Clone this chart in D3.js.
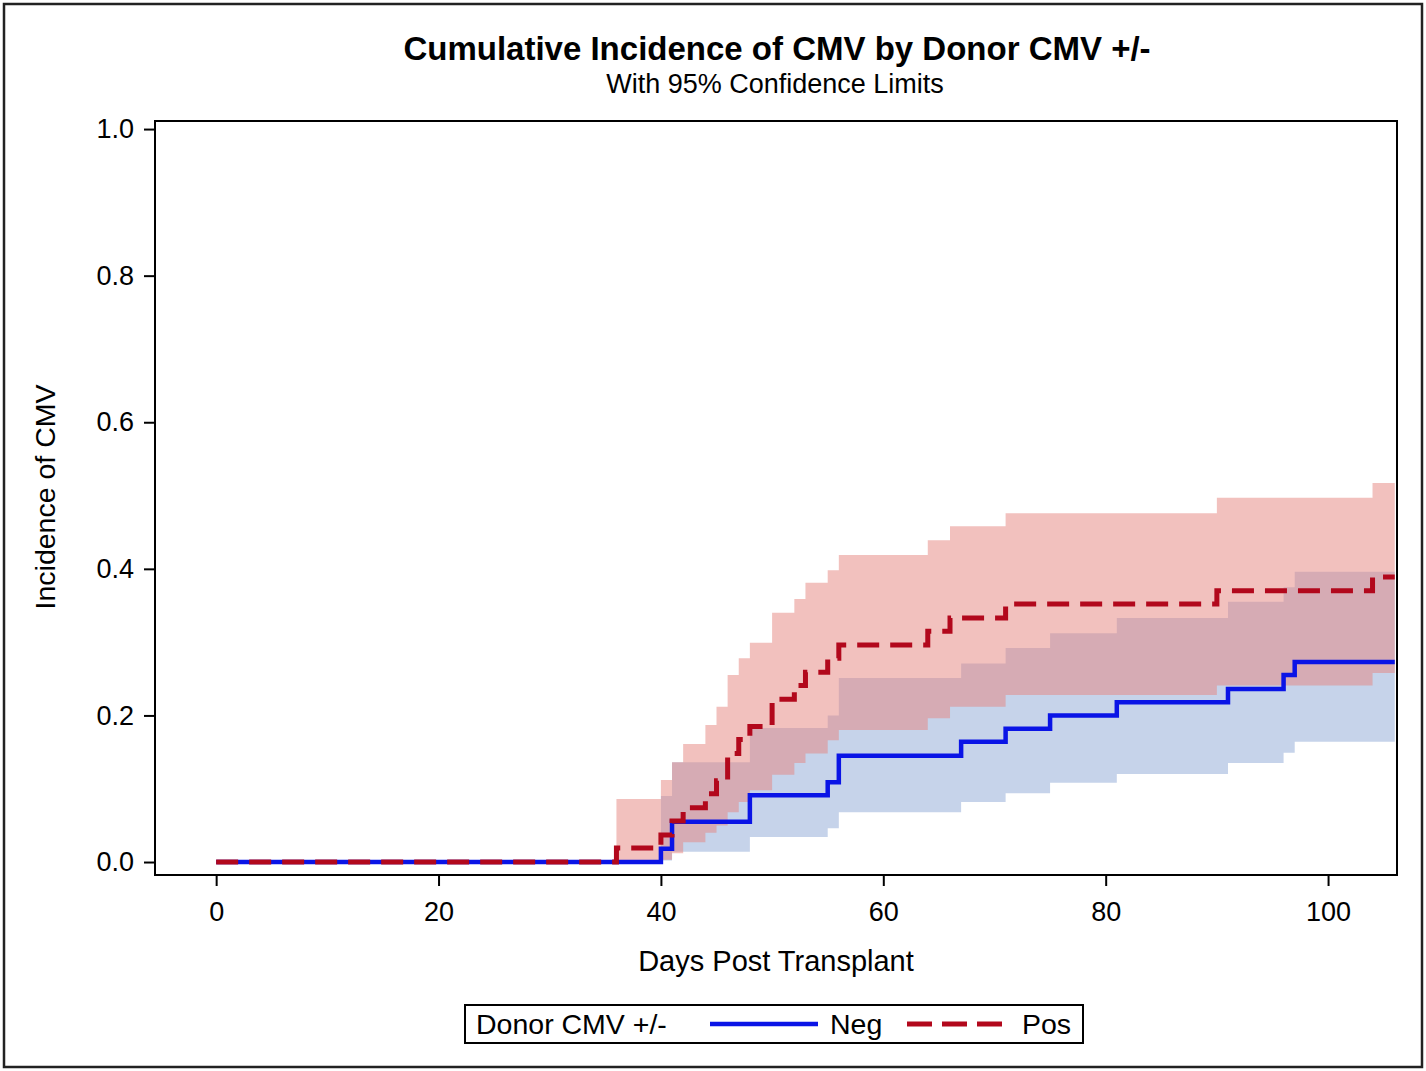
<!DOCTYPE html>
<html>
<head>
<meta charset="utf-8">
<script src="https://cdn.jsdelivr.net/npm/d3@7"></script>
<style>
  html, body { margin: 0; padding: 0; background: #fff; }
  svg { display: block; }
  text { font-family: "Liberation Sans", Arial, sans-serif; fill: #000; }
</style>
</head>
<body>
<svg id="chart" width="1426" height="1071"></svg>
<script>
// ---------- Data ----------
const titleText = "Cumulative Incidence of CMV by Donor CMV +/-";
const subtitleText = "With 95% Confidence Limits";
const xLabel = "Days Post Transplant";
const yLabel = "Incidence of CMV";
const legendTitle = "Donor CMV +/-";
const seriesNames = ["Neg", "Pos"];

const xTicks = [0, 20, 40, 60, 80, 100];
const yTicks = [0.0, 0.2, 0.4, 0.6, 0.8, 1.0];

// Donor CMV negative
const negDays  = [0, 40, 41, 48, 55, 56, 67, 71, 75, 81, 91, 96, 97, 106];
const negEst   = [0, 0.018, 0.055, 0.091, 0.109, 0.145, 0.164, 0.182, 0.200, 0.218, 0.236, 0.255, 0.273, 0.273];
const negLower = [0, 0.002, 0.014, 0.034, 0.046, 0.068, 0.082, 0.094, 0.108, 0.120, 0.135, 0.149, 0.164, 0.164];
const negUpper = [0, 0.090, 0.136, 0.183, 0.200, 0.251, 0.271, 0.292, 0.312, 0.333, 0.355, 0.375, 0.396, 0.396];

// Donor CMV positive
const posDays  = [0, 36, 40, 41, 42, 44, 45, 46, 47, 48, 50, 52, 53, 55, 56, 64, 66, 71, 90, 104, 106];
const posEst   = [0, 0.019, 0.037, 0.056, 0.074, 0.093, 0.111, 0.148, 0.167, 0.185, 0.222, 0.241, 0.259, 0.278, 0.296, 0.315, 0.333, 0.352, 0.370, 0.389, 0.389];
const posLower = [0, 0.000, 0.003, 0.012, 0.027, 0.040, 0.050, 0.068, 0.082, 0.098, 0.119, 0.135, 0.148, 0.166, 0.180, 0.196, 0.212, 0.228, 0.241, 0.258, 0.258];
const posUpper = [0, 0.086, 0.112, 0.136, 0.161, 0.187, 0.212, 0.255, 0.278, 0.299, 0.340, 0.359, 0.381, 0.398, 0.419, 0.439, 0.458, 0.476, 0.497, 0.517, 0.517];

// ---------- Layout ----------
const W = 1426, H = 1071;
const plot = { left: 155, right: 1397, top: 121, bottom: 875 };

const svg = d3.select("#chart");

const x = d3.scaleLinear().domain([-5.5, 106.2]).range([plot.left, plot.right]);
const y = d3.scaleLinear().domain([-0.0177, 1.011]).range([plot.bottom, plot.top]);

// Outer border
svg.append("rect")
  .attr("x", 4).attr("y", 4).attr("width", W - 8).attr("height", H - 8)
  .attr("fill", "#fff").attr("stroke", "#222").attr("stroke-width", 2.5);

// Titles
svg.append("text").attr("x", 777).attr("y", 60)
  .attr("text-anchor", "middle").attr("font-size", 33).attr("font-weight", "bold")
  .text(titleText);
svg.append("text").attr("x", 775).attr("y", 93)
  .attr("text-anchor", "middle").attr("font-size", 27)
  .text(subtitleText);

// Clip for plot data
svg.append("clipPath").attr("id", "clip")
  .append("rect").attr("x", plot.left).attr("y", plot.top)
  .attr("width", plot.right - plot.left).attr("height", plot.bottom - plot.top);

const g = svg.append("g").attr("clip-path", "url(#clip)");

function rows(days, est, lo, hi) {
  return days.map((d, i) => ({ d, e: est[i], lo: lo[i], hi: hi[i] }));
}
const negData = rows(negDays, negEst, negLower, negUpper);
const posData = rows(posDays, posEst, posLower, posUpper);

const area = d3.area().curve(d3.curveStepAfter)
  .x(r => x(r.d)).y0(r => y(r.lo)).y1(r => y(r.hi));
const line = d3.line().curve(d3.curveStepAfter)
  .x(r => x(r.d)).y(r => y(r.e));

// Bands
g.append("path").datum(negData).attr("d", area)
  .attr("fill", "#c6d3ea").attr("stroke", "none");
g.append("path").datum(posData.filter(r => r.d >= 36)).attr("d", area)
  .attr("fill", "rgb(229,131,125)").attr("fill-opacity", 0.5).attr("stroke", "none");

// Lines
g.append("path").datum(negData).attr("d", line)
  .attr("fill", "none").attr("stroke", "#0a14e6").attr("stroke-width", 4.5);
g.append("path").datum(posData).attr("d", line)
  .attr("fill", "none").attr("stroke", "#b2081c").attr("stroke-width", 5)
  .attr("stroke-dasharray", "22,11");

// Plot frame
svg.append("rect")
  .attr("x", plot.left).attr("y", plot.top)
  .attr("width", plot.right - plot.left).attr("height", plot.bottom - plot.top)
  .attr("fill", "none").attr("stroke", "#000").attr("stroke-width", 2);

// Axes
const yAxis = svg.append("g").attr("transform", `translate(${plot.left},0)`)
  .call(d3.axisLeft(y).tickValues(yTicks).tickFormat(d3.format(".1f")).tickSize(11).tickPadding(10));
const xAxis = svg.append("g").attr("transform", `translate(0,${plot.bottom})`)
  .call(d3.axisBottom(x).tickValues(xTicks).tickFormat(d3.format("d")).tickSize(11).tickPadding(16));
[yAxis, xAxis].forEach(a => {
  a.select(".domain").remove();
  a.selectAll(".tick line").attr("stroke", "#000").attr("stroke-width", 2);
  a.selectAll(".tick text").attr("font-size", 27)
    .attr("font-family", "'Liberation Sans', Arial, sans-serif").attr("fill", "#000");
});

// Axis labels
svg.append("text").attr("x", 776).attr("y", 971)
  .attr("text-anchor", "middle").attr("font-size", 29).text(xLabel);
svg.append("text")
  .attr("transform", "translate(55,497) rotate(-90)")
  .attr("text-anchor", "middle").attr("font-size", 28.5).text(yLabel);

// Legend
const leg = svg.append("g");
leg.append("rect").attr("x", 465).attr("y", 1005).attr("width", 618).attr("height", 38)
  .attr("fill", "#fff").attr("stroke", "#000").attr("stroke-width", 2);
leg.append("text").attr("x", 476).attr("y", 1034).attr("font-size", 28.5).text(legendTitle);
leg.append("line").attr("x1", 710).attr("x2", 818).attr("y1", 1024).attr("y2", 1024)
  .attr("stroke", "#0a14e6").attr("stroke-width", 4.5);
leg.append("text").attr("x", 830).attr("y", 1034).attr("font-size", 28.5).text(seriesNames[0]);
leg.append("line").attr("x1", 907).attr("x2", 1003).attr("y1", 1024).attr("y2", 1024)
  .attr("stroke", "#b2081c").attr("stroke-width", 5).attr("stroke-dasharray", "25,10");
leg.append("text").attr("x", 1022).attr("y", 1034).attr("font-size", 28.5).text(seriesNames[1]);
</script>
</body>
</html>
